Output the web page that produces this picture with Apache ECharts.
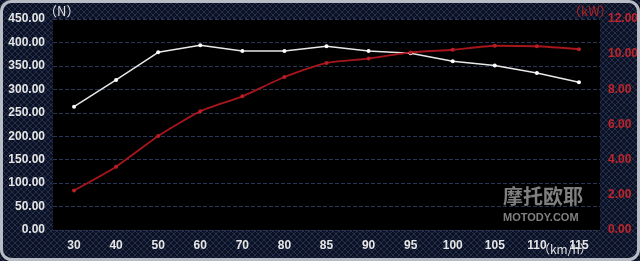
<!DOCTYPE html>
<html><head><meta charset="utf-8">
<script src="https://cdn.jsdelivr.net/npm/echarts@6/dist/echarts.min.js"></script>
<style>html,body{margin:0;padding:0;background:#0c1120;}#c{width:640px;height:261px;}</style>
</head><body><div id="c"></div>
<script>
var categories = ['30','40','50','60','70','80','85','90','95','100','105','110','115'];
var torqueN = [263, 320, 379, 394, 382, 382, 392, 382, 377, 360, 351, 335, 315];
var powerKW = [2.25, 3.6, 5.35, 6.75, 7.6, 8.7, 9.5, 9.75, 10.1, 10.25, 10.48, 10.45, 10.28];
var leftTicks = {min: 0, max: 450, interval: 50};
var rightTicks = {min: 0, max: 12, interval: 2};

var pc = document.createElement('canvas');
pc.width = 6; pc.height = 6;
var g = pc.getContext('2d');
g.fillStyle = '#0c1224'; g.fillRect(0,0,6,6);
g.strokeStyle = '#22304e'; g.lineWidth = 1;
g.beginPath(); g.moveTo(0,0); g.lineTo(6,6); g.moveTo(6,0); g.lineTo(0,6); g.stroke();

var FONT = '"Liberation Sans", Arial, sans-serif';
var chart = echarts.init(document.getElementById('c'));
chart.setOption({
  backgroundColor: {image: pc, repeat: 'repeat'},
  animation: false,
  grid: {left: 53, right: 40, top: 19, bottom: 31, show: true, backgroundColor: '#000', borderWidth: 0, outerBoundsMode: 'none', containLabel: false},
  graphic: [
    {type: 'rect', shape: {x: 1.5, y: 1.5, width: 637, height: 258, r: 10}, style: {fill: 'none', stroke: '#b8bcc4', lineWidth: 3}, z: 100},
    {type: 'text', left: 44, top: 5, style: {text: '（N）', fill: '#e0e0e0', font: '13px "Noto Sans CJK SC"'}},
    {type: 'text', left: 568, top: 5, style: {text: '（kW）', fill: '#b02024', font: '13px "Noto Sans CJK SC"'}},
    {type: 'text', left: 538, top: 243, style: {text: '（km/h）', fill: '#e0e0e0', font: '12px "Noto Sans CJK SC"'}},
    {type: 'text', left: 503, top: 186, style: {text: '摩托欧耶', fill: 'rgba(160,160,160,0.8)', font: 'bold 20px "Noto Sans CJK SC"'}},
    {type: 'text', left: 503, top: 212, style: {text: 'MOTODY.COM', fill: 'rgba(160,160,160,0.8)', font: 'bold 11px "Liberation Sans"'}}
  ],
  xAxis: {
    type: 'category', data: categories, boundaryGap: true,
    axisLine: {show: false}, axisTick: {show: false},
    axisLabel: {color: '#e6e6e6', fontWeight: 'bold', fontSize: 12, margin: 10, fontFamily: FONT}
  },
  yAxis: [
    {type: 'value', min: leftTicks.min, max: leftTicks.max, interval: leftTicks.interval, position: 'left',
     axisLine: {show: false}, axisTick: {show: false},
     axisLabel: {color: '#e6e6e6', fontWeight: 'bold', fontSize: 12, margin: 8, fontFamily: FONT,
       formatter: function(v){return v.toFixed(2);}},
     splitLine: {show: true, lineStyle: {color: '#2b3656', type: 'dashed', width: 1}}},
    {type: 'value', min: rightTicks.min, max: rightTicks.max, interval: rightTicks.interval, position: 'right',
     axisLine: {show: false}, axisTick: {show: false},
     axisLabel: {color: '#c0242a', fontWeight: 'bold', fontSize: 12, margin: 8, fontFamily: FONT,
       formatter: function(v){return v.toFixed(2);}},
     splitLine: {show: false}}
  ],
  series: [
    {type: 'line', name: 'N', yAxisIndex: 0, data: torqueN, symbol: 'circle', symbolSize: 4,
     lineStyle: {color: '#e8e8e8', width: 1.5}, itemStyle: {color: '#ffffff'}},
    {type: 'line', name: 'kW', yAxisIndex: 1, data: powerKW, symbol: 'circle', symbolSize: 4, smooth: 0.2,
     lineStyle: {color: '#a8161c', width: 1.8}, itemStyle: {color: '#b81e24'}}
  ]
});
</script></body></html>
